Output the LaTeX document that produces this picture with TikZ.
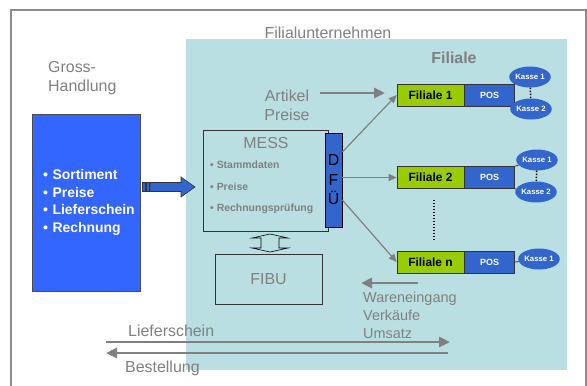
\documentclass[tikz,border=0pt]{standalone}
\usepackage{fontspec}
\setmainfont{Liberation Sans}
\usetikzlibrary{positioning,arrows.meta,shapes.geometric}

\definecolor{txtgray}{RGB}{128,128,128}
\definecolor{tealbg}{RGB}{185,223,226}
\definecolor{grossblue}{RGB}{51,102,255}
\definecolor{posblue}{RGB}{51,102,204}
\definecolor{filgreen}{RGB}{153,204,0}

\tikzset{
  every node/.style={inner sep=0pt},
  graytext/.style={text=txtgray,font=\fontsize{16}{19}\selectfont},
  smalltext/.style={text=txtgray,font=\fontsize{14.5}{18}\selectfont},
  grossbox/.style={draw=black!70,fill=grossblue,text=white,minimum width=108bp,minimum height=177bp,
    text width=86bp,inner xsep=11bp,align=left,font=\bfseries\fontsize{14}{17.5}\selectfont},
  messbox/.style={draw=black!80,line width=0.7bp},
  dfubox/.style={draw=black,line width=0.7bp,fill=posblue,minimum width=17bp,minimum height=94bp,
    align=center,font=\fontsize{16}{19.5}\selectfont},
  filiale/.style={draw=black!80,line width=0.7bp,fill=filgreen,minimum width=67bp,minimum height=22bp,
    font=\bfseries\fontsize{12}{14}\selectfont},
  posbox/.style={draw=black!80,line width=0.7bp,fill=posblue,text=white,minimum width=50bp,minimum height=22bp,
    font=\bfseries\fontsize{9}{11}\selectfont},
  kasse/.style={ellipse,fill=posblue,text=white,minimum width=41bp,minimum height=21bp,
    font=\bfseries\fontsize{7.8}{9}\selectfont},
  link/.style={draw=txtgray,line width=1.2bp,-{Triangle[length=8bp,width=7bp]}},
  flow/.style={draw=txtgray,line width=2.8bp,-{Triangle[length=11bp,width=10bp]}},
  dotline/.style={black,line width=1.5bp,dash pattern=on 1.5bp off 1.5bp},
  bigarrow/.style={fill=posblue,draw=black!80,line width=0.6bp}
}

\begin{document}
\begin{tikzpicture}[x=1bp,y=-1bp]
  \useasboundingbox (0,0) rectangle (587,385);
  \draw[black!45,line width=1.5bp] (11,10) rectangle (586,400);
  \fill[tealbg] (186,39) rectangle (567,370);

  \node[graytext,anchor=base] (unternehmen) at (328,38.5) {Filialunternehmen};
  \node[graytext,anchor=base,font=\bfseries\fontsize{16}{19}\selectfont] (filtitle) at (454,63.5) {Filiale};
  \node[graytext,anchor=north west,align=left] (grosslabel) at (48,61) {Gross-\\Handlung};
  \node[graytext,anchor=north,align=center] (artikel) at (287,90) {Artikel\\Preise};

  \node[grossbox] (gross) at (86,202.5)
    {\mbox{• Sortiment}\\\mbox{• Preise}\\\mbox{• Lieferschein}\\\mbox{• Rechnung}};

  \filldraw[bigarrow] (142,182.5) rectangle (145.5,191.5);
  \filldraw[bigarrow] (146,182.5) rectangle (149,191.5);
  \filldraw[bigarrow] (150,182.5) -- (181,182.5) -- (181,177) -- (195,187) -- (181,197)
    -- (181,191.5) -- (150,191.5) -- cycle;

  \node[messbox,minimum width=125bp,minimum height=101bp] (mess) at (265.5,180.5) {};
  \node[graytext,anchor=base] (messlabel) at (266,148.5) {MESS};
  \node[anchor=north west,align=left,text=txtgray,font=\bfseries\fontsize{10.5}{21.5}\selectfont]
    (messlist) at (210,161) {• Stammdaten\\• Preise\\• Rechnungsprüfung};
  \node[dfubox] (dfu) at (333.5,180) {D\\F\\Ü};

  \node[messbox,graytext,minimum width=107bp,minimum height=50bp] (fibu) at (268.5,279) {FIBU};
  \filldraw[fill=tealbg,draw=black,line width=0.6bp] (270,234) -- (288,238) -- (279,238) -- (279,248)
    -- (288,248) -- (270,252) -- (252,248) -- (261,248) -- (261,238) -- (252,238) -- cycle;

  \node[filiale] (fil1) at (430.5,95) {Filiale 1};
  \node[posbox,right=0pt of fil1] (pos1) {POS};
  \node[filiale] (fil2) at (430.5,177.5) {Filiale 2};
  \node[posbox,right=0pt of fil2] (pos2) {POS};
  \node[filiale] (filn) at (430.5,262) {Filiale n};
  \node[posbox,right=0pt of filn] (posn) {POS};

  \node[kasse] (k11) at (530,77) {Kasse 1};
  \node[kasse] (k12) at (531,109) {Kasse 2};
  \node[kasse] (k21) at (537,160) {Kasse 1};
  \node[kasse] (k22) at (536,192) {Kasse 2};
  \node[kasse] (kn1) at (539,259) {Kasse 1};

  \foreach \a/\b in {pos1.north east/k11,pos2.north east/k21,pos2.south east/k22,posn.east/kn1}
    \draw[black!80,line width=0.8bp] (\a) -- (\b);
  \foreach \a/\b in {k11/k12,k21/k22}
    \draw[dotline] (\a) -- (\b);
  \draw[dotline] ([xshift=3.5bp,yshift=-11bp]fil2.south) -- ([xshift=3.5bp,yshift=11bp]filn.north);

  \draw[link] ([yshift=28bp]dfu.east) -- (fil1.west);
  \draw[link] (dfu.east |- fil2.west) -- (fil2.west);
  \draw[link] ([yshift=-20bp]dfu.east) -- (filn.west);

  \coordinate (artstart) at (320,93);
  \coordinate (artend) at (385,93);
  \draw[flow] (artstart) -- (artend);

  \coordinate (warestart) at (418,283);
  \coordinate (wareend) at (361,283);
  \draw[flow] (warestart) -- (wareend);
  \node[smalltext,anchor=north west,align=left] (ware) at (363,291.5) {Wareneingang\\Verkäufe\\Umsatz};

  \coordinate (liefstart) at (106,342);
  \coordinate (liefend) at (450,342);
  \coordinate (beststart) at (448,353);
  \coordinate (bestend) at (106,353);
  \draw[flow] (liefstart) -- (liefend);
  \draw[flow] (beststart) -- (bestend);
  \node[graytext,anchor=base west] (lieflabel) at (128,336.5) {Lieferschein};
  \node[graytext,anchor=base west] (bestlabel) at (125,372.5) {Bestellung};
\end{tikzpicture}
\end{document}
